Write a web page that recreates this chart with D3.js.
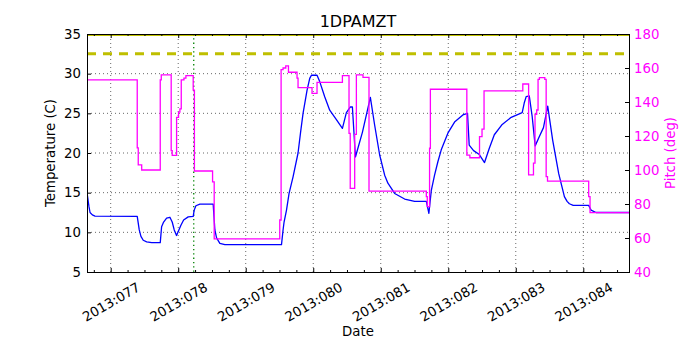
<!DOCTYPE html>
<html><head><meta charset="utf-8">
<script src="https://cdn.jsdelivr.net/npm/d3@7"></script>
<style>
body{margin:0;background:#fff}
svg{display:block}
text{font-family:"DejaVu Sans",sans-serif}
</style>
</head><body>
<svg id="c" width="700" height="350"></svg>
<script>
// ---------- data ----------
const chartTitle = "1DPAMZT";
const xLabel = "Date";
const yLeftLabel = "Temperature (C)";
const yRightLabel = "Pitch (deg)";
const xDomain = [76.649, 84.677];            // day of year 2013
const xTickDays = [77, 78, 79, 80, 81, 82, 83, 84];
const tempTicks = [5, 10, 15, 20, 25, 30, 35];
const pitchTicks = [40, 60, 80, 100, 120, 140, 160, 180];
const tempLimitSolid = [35];
const tempLimitDashed = [32.5];
const markerDays = [78.23];

const tempDays = [76.649,76.679,76.694,76.728,76.768,77.393,77.423,77.448,77.482,77.533,77.607,77.734,77.754,77.784,77.828,77.877,77.911,77.941,77.975,78.010,78.040,78.080,78.148,78.222,78.237,78.262,78.321,78.518,78.543,78.568,78.617,78.691,79.530,79.553,79.568,79.604,79.642,79.701,79.775,79.811,79.849,79.908,79.948,79.973,80.056,80.096,80.170,80.244,80.343,80.432,80.491,80.550,80.580,80.625,80.728,80.846,80.910,80.984,81.058,81.106,81.206,81.354,81.502,81.675,81.713,81.749,81.797,81.846,81.896,81.994,82.093,82.216,82.285,82.310,82.375,82.460,82.537,82.608,82.682,82.799,82.932,83.095,83.125,83.154,83.200,83.243,83.287,83.351,83.410,83.473,83.547,83.636,83.720,83.760,83.794,83.850,84.080,84.115,84.189,84.677];
const tempValues = [15.0,13.2,12.5,12.2,12.05,12.0,10.3,9.5,9.0,8.8,8.7,8.7,10.7,11.3,11.8,11.9,11.3,10.3,9.6,10.3,10.9,11.55,11.95,12.0,12.8,13.35,13.55,13.55,10.3,9.3,8.6,8.45,8.45,10.3,11.3,12.8,14.9,17.0,20.0,22.5,25.0,27.9,29.4,29.8,29.8,29.0,27.1,25.4,24.2,23.1,25.1,25.8,25.8,19.5,22.6,27.0,23.5,19.75,17.2,16.2,14.9,14.2,13.9,13.9,12.4,15.3,17.2,18.9,20.4,22.5,23.9,24.8,25.0,21.0,20.3,19.8,18.8,20.6,22.3,23.6,24.5,25.1,26.3,27.1,27.2,24.6,20.9,22.1,23.2,25.9,21.6,17.4,14.5,13.9,13.6,13.4,13.4,12.8,12.5,12.5];

const pitchDays = [76.649,77.393,77.408,77.459,77.734,77.749,77.896,77.911,77.976,78.005,78.025,78.045,78.085,78.114,78.222,78.240,78.509,78.533,79.504,79.524,79.553,79.593,79.633,79.760,79.775,79.982,80.056,80.432,80.530,80.548,80.614,80.639,80.737,80.826,81.675,81.689,81.723,81.735,82.275,82.320,82.463,82.500,82.530,83.104,83.190,83.262,83.285,83.310,83.330,83.350,83.430,83.450,83.470,84.080,84.100,84.677];
const pitchValues = [153,113,103,100,153,156,111.4,108.6,131,134,136,153,154,155.5,147,99.4,93,59.5,70.6,159,160,161.2,157.5,154,148.4,145.1,151.6,155.5,121.6,89.2,121,155.9,154.5,87.6,84.3,78.4,112.8,147.5,108.8,107.2,119.6,124,146.5,150.6,97.1,104,132.8,135.3,153.3,154.3,153.3,96.1,93.5,84.3,74.9,74.9];

// ---------- layout ----------
const L = 87, R = 629, T = 34, B = 272;
const FS = 13.3;
const svg = d3.select("#c");
svg.append("rect").attr("width",700).attr("height",350).attr("fill","#fff");

const x = d3.scaleLinear().domain(xDomain).range([L, R]);
const yT = d3.scaleLinear().domain([5, 35]).range([B, T]);
const yP = d3.scaleLinear().domain([40, 180]).range([B, T]);

svg.append("clipPath").attr("id","clip").append("rect")
  .attr("x",L).attr("y",T).attr("width",R-L).attr("height",B-T);

// grid
const grid = svg.append("g").attr("stroke","#000").attr("stroke-width",0.6)
  .attr("stroke-dasharray","1,3").attr("fill","none");
grid.selectAll("line.v").data(xTickDays).join("line").attr("class","v")
  .attr("x1",d=>x(d)).attr("x2",d=>x(d)).attr("y1",B).attr("y2",T);
grid.selectAll("line.h").data(tempTicks.filter(t=>t>5 && t<35)).join("line").attr("class","h")
  .attr("x1",L).attr("x2",R).attr("y1",d=>yT(d)).attr("y2",d=>yT(d));

const plot = svg.append("g").attr("clip-path","url(#clip)");

// limit lines
plot.selectAll("line.lim").data(tempLimitSolid).join("line").attr("class","lim")
  .attr("x1",L).attr("x2",R).attr("y1",d=>yT(d)+1.2).attr("y2",d=>yT(d)+1.2)
  .attr("stroke","#bfbf00").attr("stroke-width",1.6);
plot.selectAll("line.limd").data(tempLimitDashed).join("line").attr("class","limd")
  .attr("x1",L).attr("x2",R).attr("y1",d=>yT(d)).attr("y2",d=>yT(d))
  .attr("stroke","#bfbf00").attr("stroke-width",3).attr("stroke-dasharray","9,7");

// marker
plot.selectAll("line.mk").data(markerDays).join("line").attr("class","mk")
  .attr("x1",d=>x(d)).attr("x2",d=>x(d)).attr("y1",T).attr("y2",B)
  .attr("stroke","#008000").attr("stroke-width",1.3).attr("stroke-dasharray","1.3,3");

// temperature
const tempData = tempDays.map((d,i)=>[d,tempValues[i]]);
plot.append("path").datum(tempData)
  .attr("d", d3.line().x(d=>x(d[0])).y(d=>yT(d[1])))
  .attr("fill","none").attr("stroke","#0000ff").attr("stroke-width",1.3)
  .attr("stroke-linejoin","round");

// pitch
const pitchData = pitchDays.map((d,i)=>[d,pitchValues[i]]);
plot.append("path").datum(pitchData)
  .attr("d", d3.line().curve(d3.curveStepAfter).x(d=>x(d[0])).y(d=>yP(d[1])))
  .attr("fill","none").attr("stroke","#ff00ff").attr("stroke-width",1.3);

// frame
svg.append("rect").attr("x",L).attr("y",T).attr("width",R-L).attr("height",B-T)
  .attr("fill","none").attr("stroke","#000").attr("stroke-width",1).attr("shape-rendering","crispEdges");

// axes
const minorDays = d3.range(Math.ceil(xDomain[0]*4)/4, xDomain[1], 0.25).filter(d=>Math.abs(d-Math.round(d))>1e-6);
function style(g){
  g.select(".domain").remove();
  g.attr("font-size",FS).attr("font-family","DejaVu Sans, sans-serif").attr("color","#000");
  g.selectAll(".tick line").attr("stroke-width",1);
}
const gxb = svg.append("g").attr("transform",`translate(0,${B})`)
  .call(d3.axisBottom(x).tickValues(xTickDays).tickSize(-4).tickPadding(0)
    .tickFormat(d=>"2013:"+d3.format("03d")(d))).call(style);
gxb.selectAll("text").attr("y",0).attr("dy","0.35em").attr("text-anchor","middle")
  .attr("transform","translate(0,30) rotate(-30)");
svg.append("g").attr("transform",`translate(0,${B})`)
  .call(d3.axisBottom(x).tickValues(minorDays).tickSize(-2).tickFormat(()=>"")).call(style);
svg.append("g").attr("transform",`translate(0,${T})`)
  .call(d3.axisTop(x).tickValues(xTickDays).tickSize(-4).tickFormat(()=>"")).call(style);
svg.append("g").attr("transform",`translate(0,${T})`)
  .call(d3.axisTop(x).tickValues(minorDays).tickSize(-2).tickFormat(()=>"")).call(style);
svg.append("g").attr("transform",`translate(${L},0)`)
  .call(d3.axisLeft(yT).tickValues(tempTicks).tickSize(-4).tickPadding(6)).call(style);
const gr = svg.append("g").attr("transform",`translate(${R},0)`)
  .call(d3.axisRight(yP).tickValues(pitchTicks).tickSize(-4).tickPadding(5)).call(style);
gr.selectAll("text").attr("fill","#ff00ff");

// labels
svg.append("text").attr("x",(L+R)/2).attr("y",27).attr("text-anchor","middle")
  .attr("font-size",16).text(chartTitle);
svg.append("text").attr("x",(L+R)/2).attr("y",336).attr("text-anchor","middle")
  .attr("font-size",FS).text(xLabel);
svg.append("text").attr("transform",`translate(55,${(T+B)/2}) rotate(-90)`).attr("text-anchor","middle")
  .attr("font-size",FS).text(yLeftLabel);
svg.append("text").attr("transform",`translate(675,${(T+B)/2}) rotate(-90)`).attr("text-anchor","middle")
  .attr("font-size",FS).attr("fill","#ff00ff").text(yRightLabel);
</script>
</body></html>
